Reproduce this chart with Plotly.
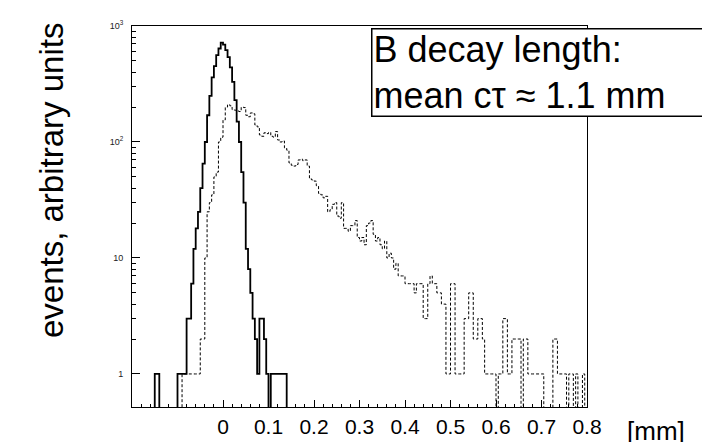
import plotly.graph_objects as go

# ---------------- data ----------------
bin_width = 0.005  # mm

# resolution only (solid)
solid_start = -0.16
solid_counts = [0, 0, 1, 1, 0, 0, 0, 0, 0, 0, 0, 0,
                1, 1, 1, 1, 3, 3, 6, 12, 18, 25, 40, 65, 100, 170, 250, 360, 450, 560, 640, 720,
                690, 620, 540, 440, 330, 230, 150, 100, 55, 30, 12, 8, 5, 3, 2, 1, 3, 3, 2, 1,
                0, 1, 1, 1, 1, 1, 1, 1, 0]

# B decay length with resolution (dashed)
dashed_start = -0.095
dashed_counts = [0, 1, 1, 1, 1, 1, 1, 1, 1, 2, 2, 10, 25, 30, 35, 50, 55, 100, 110,
                 155, 200, 210, 205, 190, 188, 185, 183, 200, 198,
                 170, 165, 178, 175, 140, 135, 115, 112, 120, 118,
                 121, 112, 110, 123, 104, 100, 102, 89, 85, 66,
                 63, 62, 64, 70, 71, 69, 70, 62, 48, 47,
                 46, 42, 36, 35, 33, 34, 25, 26, 29, 30,
                 23, 22, 30, 18, 18, 17, 19, 19, 21, 15,
                 14, 15, 13, 19, 20, 21, 16, 14, 15, 13,
                 12, 14, 10, 11, 10, 8, 9, 7, 7, 7,
                 6, 6, 6, 6, 5, 6, 6, 6, 3, 3,
                 6, 7, 6, 6, 5, 5, 4, 4, 1, 1,
                 6, 6, 1, 1, 1, 1, 3, 3, 5, 5,
                 2, 2, 3, 3, 2, 1, 1, 1, 1, 1,
                 0, 1, 1, 3, 3, 1, 1, 2, 2, 2,
                 2, 0, 2, 2, 1, 1, 1, 1, 1, 1,
                 1, 0, 0, 0, 0, 2, 2, 1, 1, 1,
                 1, 0, 1, 1, 0, 1, 0, 0, 1]

x_tick_vals = [0, 0.1, 0.2, 0.3, 0.4, 0.5, 0.6, 0.7, 0.8]
x_tick_text = ["0", "0.1", "0.2", "0.3", "0.4", "0.5", "0.6", "0.7", "0.8"]
x_minor_vals = [round(-0.2 + 0.02 * i, 2) for i in range(51)]
y_tick_vals = [1, 10, 100, 1000]
y_tick_text = ["1", "10", "10<sup>2</sup>", "10<sup>3</sup>"]
y_minor_vals = [m * d for d in (1, 10, 100) for m in range(2, 10)]

FLOOR = 0.1  # below the visible range: empty bins drop to the frame


def step_xy(start, counts):
    edges = [start + i * bin_width for i in range(len(counts) + 1)]
    ys = [c if c > 0 else FLOOR for c in counts]
    xs = [edges[0]] + edges + [edges[-1]]
    yy = [FLOOR] + ys + [ys[-1], FLOOR]
    return xs, yy


fig = go.Figure()
sx, sy = step_xy(dashed_start, dashed_counts)
fig.add_trace(go.Scatter(x=sx, y=sy, mode="lines", line_shape="hv",
                         line=dict(color="black", width=1, dash="3px,2px"),
                         showlegend=False, hoverinfo="skip"))
sx, sy = step_xy(solid_start, solid_counts)
fig.add_trace(go.Scatter(x=sx, y=sy, mode="lines", line_shape="hv",
                         line=dict(color="black", width=1.8),
                         showlegend=False, hoverinfo="skip"))

font_family = "Arial, Liberation Sans, sans-serif"

fig.update_layout(
    width=710, height=442,
    margin=dict(l=124, r=131, t=18, b=43),
    plot_bgcolor="white", paper_bgcolor="white",
    font=dict(family=font_family, color="black"),
    xaxis=dict(range=[-0.2, 0.8], showline=True, mirror=True, linecolor="black", linewidth=1,
               showgrid=False, zeroline=False, automargin=False,
               ticks="inside", ticklen=7, tickcolor="black",
               tickmode="array", tickvals=x_tick_vals, ticktext=x_tick_text,
               tickfont=dict(size=21, family=font_family, color="black"),
               ticklabelstandoff=1,
               minor=dict(tickmode="array", tickvals=x_minor_vals, ticks="inside",
                          ticklen=3, tickcolor="black", showgrid=False)),
    yaxis=dict(type="log", range=[-0.285, 3.0], showline=True, mirror=True, linecolor="black",
               linewidth=1, showgrid=False, zeroline=False, automargin=False,
               ticks="inside", ticklen=8, tickcolor="black",
               tickmode="array", tickvals=y_tick_vals, ticktext=y_tick_text,
               tickfont=dict(size=9, family=font_family, color="#222"),
               ticklabelstandoff=6,
               minor=dict(tickmode="array", tickvals=y_minor_vals, ticks="inside",
                          ticklen=4, tickcolor="black", showgrid=False)),
    annotations=[
        dict(text="events, arbitrary units", xref="paper", yref="paper",
             x=-0.178, y=0.593, xanchor="center", yanchor="middle", textangle=-90,
             showarrow=False, font=dict(size=33, family=font_family, color="black")),
        dict(text="[mm]", xref="paper", yref="paper", x=1.152, y=-0.105,
             xanchor="center", yanchor="bottom", showarrow=False, borderpad=0,
             font=dict(size=26, family=font_family, color="black")),
        dict(text="B decay length:<br>mean c\u03c4 \u2248 1.1 mm", xref="paper", yref="paper",
             x=0.525, y=0.995, xanchor="left", yanchor="top", showarrow=False,
             align="left", valign="middle", width=331, height=84, borderpad=1,
             bgcolor="white", bordercolor="black", borderwidth=1.5,
             font=dict(size=36, family=font_family, color="black")),
    ],
)

fig.write_html("out.html")
